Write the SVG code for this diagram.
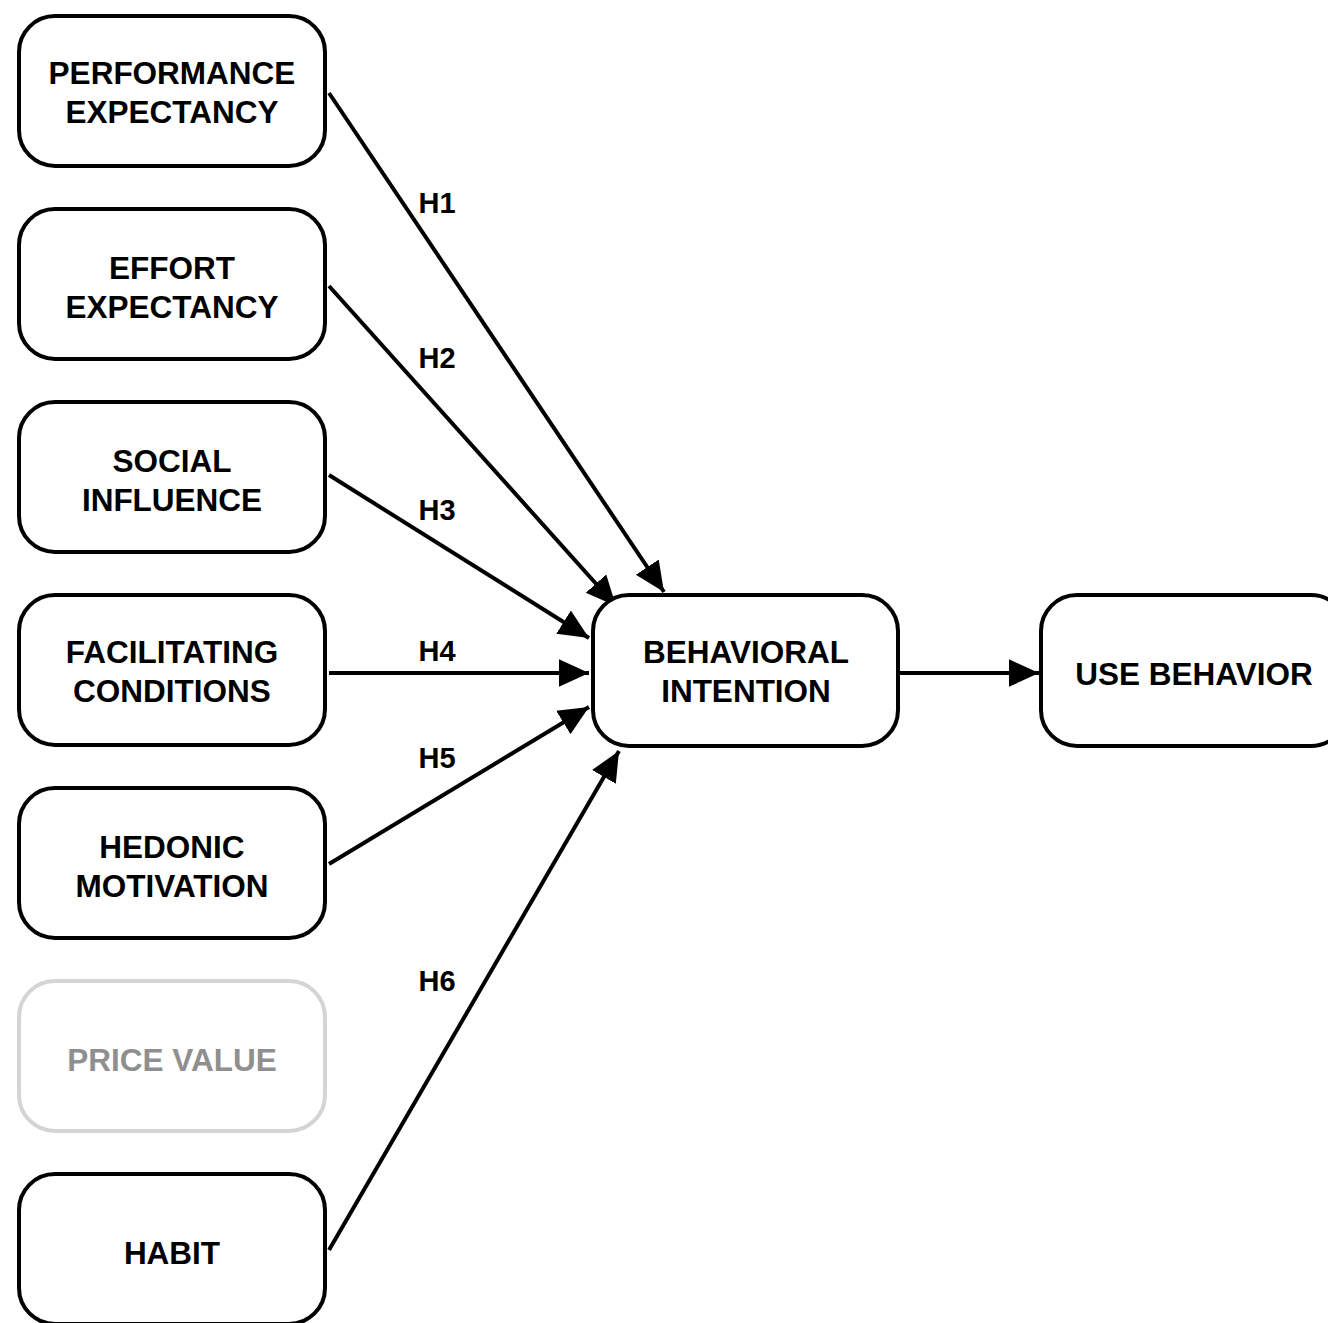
<svg xmlns="http://www.w3.org/2000/svg" width="1328" height="1323" viewBox="0 0 1328 1323">
<style>
.n rect{fill:#fff;stroke:#000;stroke-width:4}
.n text{font-family:"Liberation Sans",Arial,sans-serif;font-weight:bold;font-size:31.5px;text-anchor:middle;fill:#000}
.g rect{stroke:#d4d4d4}
.g text{fill:#8f8f8f}
.e line{stroke:#000;stroke-width:4}
.lbl{font-family:"Liberation Sans",Arial,sans-serif;font-weight:bold;font-size:29px;text-anchor:middle;fill:#000}
</style>
<defs>
<marker id="ah" markerUnits="userSpaceOnUse" markerWidth="30" markerHeight="30" viewBox="0 0 24 22" refX="24" refY="11" orient="auto">
<path d="M0,0 L24,11 L0,22 Z" fill="#000"/>
</marker>
</defs>
<rect width="1328" height="1323" fill="#fff"/>
<g id="edges" class="e">
<line x1="329" y1="93" x2="664" y2="592" marker-end="url(#ah)"/>
<line x1="329" y1="286" x2="616" y2="606" marker-end="url(#ah)"/>
<line x1="329" y1="475" x2="589" y2="638" marker-end="url(#ah)"/>
<line x1="329" y1="673" x2="589" y2="673" marker-end="url(#ah)"/>
<line x1="329" y1="864" x2="589" y2="707" marker-end="url(#ah)"/>
<line x1="329" y1="1250" x2="619" y2="751" marker-end="url(#ah)"/>
<line x1="900" y1="673" x2="1039" y2="673" marker-end="url(#ah)"/>
<text class="lbl" x="437" y="213">H1</text>
<text class="lbl" x="437" y="368">H2</text>
<text class="lbl" x="437" y="520">H3</text>
<text class="lbl" x="437" y="661">H4</text>
<text class="lbl" x="437" y="768">H5</text>
<text class="lbl" x="437" y="991">H6</text>
</g>
<g id="pe" class="n"><rect x="19" y="16" width="306" height="150" rx="36"/><text x="172" y="84">PERFORMANCE</text><text x="172" y="123">EXPECTANCY</text></g>
<g id="ee" class="n"><rect x="19" y="209" width="306" height="150" rx="36"/><text x="172" y="279">EFFORT</text><text x="172" y="318">EXPECTANCY</text></g>
<g id="si" class="n"><rect x="19" y="402" width="306" height="150" rx="36"/><text x="172" y="472">SOCIAL</text><text x="172" y="511">INFLUENCE</text></g>
<g id="fc" class="n"><rect x="19" y="595" width="306" height="150" rx="36"/><text x="172" y="663">FACILITATING</text><text x="172" y="702">CONDITIONS</text></g>
<g id="hm" class="n"><rect x="19" y="788" width="306" height="150" rx="36"/><text x="172" y="858">HEDONIC</text><text x="172" y="897">MOTIVATION</text></g>
<g id="pv" class="n g"><rect x="19" y="981" width="306" height="150" rx="36"/><text x="172" y="1071">PRICE VALUE</text></g>
<g id="hb" class="n"><rect x="19" y="1174" width="306" height="150" rx="36"/><text x="172" y="1264">HABIT</text></g>
<g id="bi" class="n"><rect x="593" y="595" width="305" height="151" rx="36"/><text x="746" y="663">BEHAVIORAL</text><text x="746" y="702">INTENTION</text></g>
<g id="ub" class="n"><rect x="1041" y="595" width="306" height="151" rx="36"/><text x="1194" y="685">USE BEHAVIOR</text></g>
</svg>
